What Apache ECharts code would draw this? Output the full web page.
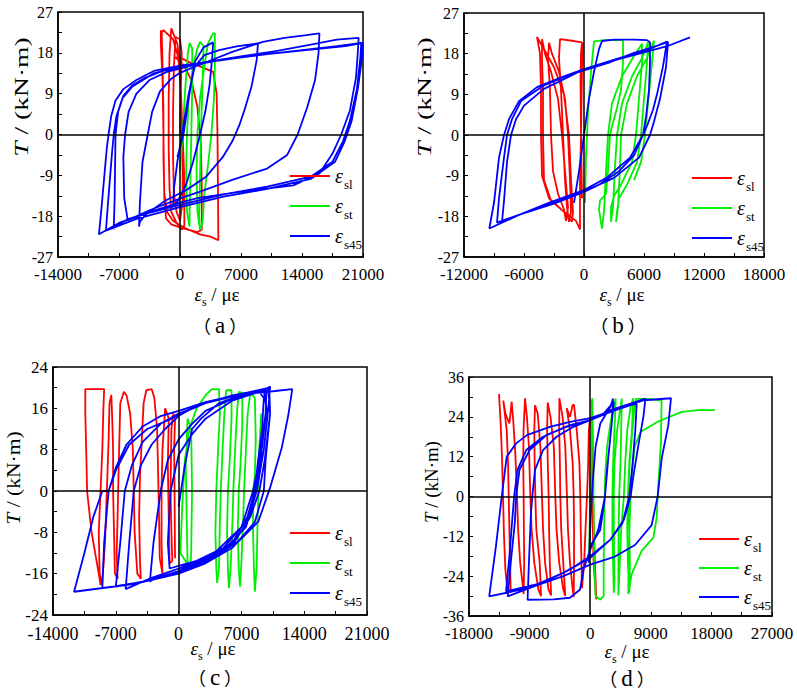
<!DOCTYPE html>
<html>
<head>
<meta charset="utf-8">
<title>扭矩-应变滞回曲线</title>
<script src="https://cdn.jsdelivr.net/npm/echarts/dist/echarts.min.js"></script>
<style>
    html, body { margin: 0; padding: 0; background: #fff; }
    #main { width: 797px; height: 692px; }
</style>
</head>
<body>
<div id="main"></div>
<script>
// 坐标轴范围 [min, max, interval]
var aX = [-14000, 21000, 7000], aY = [-27, 27, 9];
var bX = [-12000, 18000, 6000], bY = [-27, 27, 9];
var cX = [-14000, 21000, 7000], cY = [-24, 24, 8];
var dX = [-18000, 27000, 9000], dY = [-36, 36, 12];

var names = ['sl', 'st', 's45'];
var captions = ['a', 'b', 'c', 'd'];

// (a) 纵筋 / 箍筋 / 45°钢筋 应变
var a_sl = [[0,0],[100,10],[200,18],[0,21],[-500,21.5],[-700,15],[-800,5],[-800,-5],[-700,-13],[-400,-17],[0,-19],[300,-15],[300,-5],[200,5],[0,15],[-300,20],[-1000,23.4],[-1200,18],[-1300,8],[-1300,-3],[-1200,-12],[-1000,-17],[-400,-19.5],[200,-21],[500,-20],[500,-10],[300,0],[100,10],[-200,17],[-800,21],[-1900,23],[-2100,22.5],[-2000,15],[-1900,5],[-1900,-5],[-1800,-13],[-1500,-17],[-800,-19],[0,-20],[1000,-21],[2000,-21.5],[2500,-21],[2500,-12],[2400,-2],[2000,6],[1300,12],[500,15],[0,16],[-500,17],[0,17],[1000,16],[2300,15],[3800,13.8],[4200,9],[4300,0],[4350,-10],[4400,-23.3],[3500,-22.5],[2300,-22],[1000,-21],[0,-20.5],[-1000,-19.8],[-1600,-18.5],[-1800,-14],[-1900,0],[-2000,12],[-2200,20],[-2200,23]];
var a_st = [[0,-8],[300,0],[600,10],[900,18],[1100,20.2],[1400,19],[1400,10],[1300,0],[1200,-10],[1100,-17],[1100,-20.3],[800,-17],[700,-8],[800,0],[1000,8],[1500,15],[2000,19],[2300,20.4],[2700,19.5],[2600,12],[2400,0],[2300,-10],[2200,-18],[2300,-21],[2000,-17],[1900,-8],[2000,0],[2300,8],[2800,15],[3200,20],[3800,22.3],[4000,22.3],[4000,15],[3900,8],[3600,0],[3200,-7],[2800,-13],[2600,-19],[2400,-21]];
var a_s45 = [[-300,-5],[400,0],[1000,8],[1700,16],[2700,19.2],[3800,20.3],
    [3700,17],[3400,11],[2900,5],[2300,0],[1500,-6],[700,-11],[-200,-14.5],[-800,-16],
    [-700,-12],[-300,-6],[300,1],[1000,9],[1700,15],[2800,17.5],[4500,18.6],[6500,19.4],[8950,20.1],
    [8800,16.4],[8200,10.5],[7400,5.4],[6800,2],[6000,-1.5],[4900,-5],[3000,-9.3],[700,-12.3],[-1600,-14.5],[-3800,-17.4],[-4600,-19.2],[-4700,-20.3],
    [-4600,-15],[-4300,-6],[-3700,0],[-3200,5],[-2300,9.5],[-1000,12.3],[0,13.6],[2000,15.2],[4000,16.7],[6000,18.2],[8000,19.5],[9500,20.4],[12000,21.3],[14500,21.9],[16000,22.3],
    [15900,18],[15500,12],[14600,6],[13500,0],[12300,-4.5],[10000,-7.5],[6000,-10],[2300,-12.6],[0,-14.1],[-3500,-16.7],[-6000,-18.9],
    [-6400,-14],[-6500,-5],[-6300,0],[-5900,5],[-5000,9],[-3500,12],[-1500,13.8],[0,14.5],[3000,16],[7000,17.2],[11000,18.4],[15000,19.8],[18000,20.9],[20500,21.3],
    [20400,18],[20200,12.6],[19500,5.3],[18500,0],[17500,-4.2],[16000,-8.6],[13000,-11.2],[7000,-12.6],[2000,-14],[0,-15],[-3000,-16.8],[-6000,-18.7],[-7500,-20.2],[-7600,-20.9],
    [-7500,-14],[-7400,0],[-7100,5],[-6500,8.5],[-5500,10.8],[-4000,12.5],[-2000,14],[0,14.8],[4000,16.2],[9000,17.5],[14000,18.6],[18000,19.5],[20800,20.2],
    [20700,17],[20300,10],[19500,3],[18700,-1.5],[17500,-6],[15000,-9.3],[10000,-11.5],[5000,-13.2],[0,-15.5],[-4000,-17.5],[-7000,-19.5],[-9300,-22],
    [-9000,-16],[-8400,-3],[-8200,0],[-7900,4],[-7400,7.5],[-6500,10],[-5000,12],[-3000,14],[0,15.2],[5000,16.5],[10000,17.7],[15000,18.7],[19000,19.5],[21000,20.2],
    [20900,17],[20400,10],[19700,3],[18900,-1.5],[17800,-6],[15000,-9.8],[10000,-12],[5000,-13.7],[0,-16],[-5000,-18.6],[-8500,-21.2],
    [-8300,-16],[-7800,-4],[-7600,0],[-7300,4],[-6600,8],[-5500,10.5],[-3000,13.5],[0,15]];

// (b)
var b_sl = [[-200,-14],[-300,0],[-350,12],[-300,18],[-200,20.5],[-1000,20.8],[-2400,21.2],[-2500,17],[-2300,10],[-2100,0],[-1900,-10],[-1700,-16],[-1500,-19.2],[-1300,-17],[-1400,-10],[-1600,0],[-1900,8],[-2500,14],[-3200,18],[-3500,20.4],[-3600,17],[-3400,10],[-3300,0],[-3100,-8],[-2600,-13],[-2000,-16.5],[-1800,-19],[-1600,-16],[-1900,-8],[-2200,0],[-2600,8],[-3300,14],[-3900,18],[-4200,21.2],[-4200,17],[-4100,10],[-4100,0],[-4000,-10],[-3300,-14.5],[-2000,-17],[-1200,-19.2],[-1100,-17],[-1300,-10],[-1500,0],[-2000,9],[-3000,15],[-4000,19],[-4700,21.7],[-4400,18],[-4300,10],[-4300,0],[-4200,-9],[-3500,-14],[-2000,-17],[-800,-19],[-400,-20.9],[-400,-10],[-300,0],[-200,15],[-100,20.3]];
var b_st = [[100,-15],[200,-5],[400,5],[700,14],[1000,20.7],[2000,21],[3900,21],[3900,16],[3700,10],[3300,6],[2800,2],[2600,0],[2400,-8],[2200,-13],[1600,-14.5],[1500,-16.5],[1800,-20.7],[2000,-17],[2200,-8],[2400,0],[2800,7],[3800,13],[5000,17.5],[5800,20.2],[5800,16],[5500,8],[5200,0],[4800,-6],[3700,-11],[3000,-13.5],[2700,-16],[2700,-19.2],[2900,-16],[3100,-7],[3300,0],[3800,7],[4800,13],[5800,17],[6400,20.5],[6300,16],[6000,8],[5700,0],[5300,-6],[4300,-11],[3500,-14],[3300,-17],[3200,-19.2],[3400,-16],[3600,-7],[3700,0],[4300,7],[5300,13],[6300,17],[7000,20.9],[6800,16],[6400,7],[6100,0],[5700,-6],[5000,-10]];
var b_s45 = [[-1000,-15],[-500,-8],[0,0],[500,8],[1000,14],[1500,19],[1800,20.8],[3000,21.1],[5000,21.1],[6300,21],[6600,20.5],
    [6600,16],[6500,10],[6200,4],[5900,0],[5000,-4.5],[3500,-8],[1500,-11],[0,-12.6],[-3000,-15.2],[-6300,-17.5],[-8200,-19.2],
    [-8000,-14.6],[-7700,-6],[-7300,0],[-6800,3.5],[-6000,6.5],[-4000,10.2],[-1300,13.1],[0,14.6],[3200,16.8],[6500,19],[8300,20.7],
    [7900,15.2],[7300,9],[6900,5.6],[6300,2],[5900,0],[4600,-5],[2300,-9.4],[0,-12.2],[-3400,-14.9],[-6300,-17.5],[-8700,-19.4],
    [-8500,-14],[-8000,-5],[-7700,0],[-7200,3.5],[-6300,7.5],[-4000,11],[-1500,13.3],[0,14.3],[2500,16],[5000,18.2],[7000,19.5],[8400,20.6],
    [8200,15],[7600,8],[7000,3],[6600,0],[5500,-5],[3000,-9.5],[0,-12.5],[-3500,-15.2],[-6500,-17.7],[-9470,-20.7],
    [-9000,-15],[-8500,-5],[-8000,0],[-7500,3.5],[-6500,7.5],[-4700,10.6],[-2000,13],[0,14.6],[3000,16.5],[6000,18.3],[8500,19.8],[10600,21.6]];

// (c)
var c_sl = [[-400,-13],[-450,0],[-500,8],[-400,14],[-600,15],[-800,12],[-900,0],[-800,-8],[-700,-13.5],[-1000,-14],[-1100,-5],[-1200,5],[-1100,14],[-1500,16],[-1800,8],[-1900,0],[-1900,-10],[-1800,-16],
    [-2100,-13],[-2200,-3],[-2300,5],[-2400,12],[-2700,18],[-3000,19.7],[-3600,19.5],[-3900,17],[-4100,10],[-4300,3],[-4400,-5],[-4300,-14],[-4200,-17],
    [-4600,-16],[-4900,-8],[-5000,0],[-5100,8],[-5400,15],[-5800,18.5],[-6100,19.2],[-6500,17],[-6600,10],[-6700,3],[-6800,-5],[-6900,-12],[-6800,-17],
    [-7100,-16],[-7200,-8],[-7300,0],[-7300,8],[-7400,14],[-7500,18.6],[-7700,17],[-7800,10],[-8000,0],[-8200,-10],[-8400,-15],[-8600,-18.2],
    [-8800,-16],[-8900,-8],[-8700,0],[-8500,8],[-8400,15],[-8300,19.7],[-9500,19.7],[-10400,19.7],[-10400,15],[-10300,8],[-10200,0],[-9700,-8],[-9200,-13],[-8900,-16],[-8700,-18.2]];
var c_st = [[1000,-14],[900,-5],[800,5],[1000,14],[1400,12],[1500,0],[1400,-12],[1300,-15],
    [200,-12],[400,-3],[700,6],[1200,12],[2000,16],[3000,18.5],[3700,19.7],[4500,19.7],[4600,15],[4400,8],[4200,0],[4100,-8],[4200,-15],[4300,-17.8],
    [4500,-15],[4600,-6],[4700,0],[4900,8],[5100,15],[5300,19.5],[5900,19.5],[5900,14],[5700,6],[5500,0],[5400,-8],[5500,-15],[5600,-18.8],
    [5800,-15],[6000,-6],[6100,0],[6300,8],[6500,15],[6700,19.2],[7100,19],[7100,13],[6900,5],[6700,0],[6600,-8],[6700,-15],[6850,-18.5],
    [7000,-14],[7200,-5],[7300,0],[7500,8],[7700,15],[8000,19],[8500,18],[8600,10],[8500,3],[8300,0],[8300,-8],[8400,-15],[8500,-19.5],
    [8700,-15],[8800,-6],[8900,0],[9000,8],[9200,15]];
var c_s45 = [[0,-3],[700,5],[1500,12],[2500,14],[4500,17],[7000,18.5],[9000,19.2],[9500,18],[9300,12],[8800,5],[8500,0],[7500,-6],[5000,-11],[2000,-13.5],[0,-14.5],[-1000,-15],
    [-1200,-10],[-900,0],[0,7],[1500,11],[3000,14],[6000,17.5],[9500,19.5],[10200,20.2],[10000,16],[9500,8],[8900,2],[8700,0],[7500,-7],[5000,-11.5],[2000,-14],[0,-15],[-2000,-16.3],[-3200,-17.5],
    [-2800,-10],[-2000,0],[-1200,6],[0,10],[1500,13],[3000,15.5],[6000,17.8],[9800,19.5],[9700,15],[9000,6],[8300,0],[7000,-7],[4000,-12],[0,-15],[-3000,-16.8],[-5900,-19],
    [-5500,-10],[-5000,0],[-4200,5],[-3000,9],[-1500,12],[0,14.5],[2000,16.5],[5000,18],[9500,19.5],[9800,16],[9200,7],[8700,1],[8000,-4],[6000,-10],[3000,-13.5],[0,-15.5],[-3000,-17.2],[-7000,-18.5],
    [-6500,-10],[-6000,0],[-5200,5],[-4000,9.5],[-2000,13],[0,15],[3000,17],[6000,18.5],[10000,19.8],[10200,15],[9600,6],[9000,0],[8000,-5],[6000,-10.5],[3000,-13.8],[0,-15.8],[-4000,-17.6],[-8500,-18.8],
    [-8300,-10],[-7800,0],[-7000,4.5],[-5800,9],[-4000,12.5],[-2000,14.5],[0,15.5],[3000,17.2],[7000,18.8],[10100,20],[10200,15],[9700,6],[9500,0],[8500,-6],[6000,-11],[3000,-14],[0,-16],[-5000,-18],[-11650,-19.5],
    [-10500,-12],[-9500,-5],[-8500,0],[-7800,0],[-7000,4],[-5500,9],[-3500,12],[-1000,13.8],[0,14.8],[3000,17],[7000,18.7],[10000,19.2],[11000,19.4],[12670,19.7],[12230,14.7],[11490,8.3],[10190,0.6],[8890,-5.9],[6660,-9.8],[2940,-13],[0,-15.5]];

// (d)
var d_sl = [[-13540,30.9],[-13300,22],[-13100,12],[-12950,0],[-12800,-12],[-12600,-22],[-12300,-28],[-11800,-29],[-11900,-20],[-12000,-10],[-12100,0],[-12200,10],[-12400,20],[-12900,28.9],
    [-12600,25],[-12000,22],[-11660,28.6],[-11400,22],[-11100,12],[-10870,0],[-10700,-10],[-10400,-20],[-10000,-27],[-9900,-29.4],[-9800,-20],[-9850,-10],[-9880,0],[-9950,10],[-9900,20],[-9680,29.6],
    [-9400,24],[-9100,15],[-8890,0],[-8700,-10],[-8300,-20],[-7700,-28],[-7300,-30],[-7500,-20],[-8000,-10],[-8150,0],[-8250,10],[-8300,20],[-8200,27.5],
    [-7800,25],[-7400,15],[-7160,0],[-7000,-10],[-6700,-20],[-6200,-28],[-5800,-29.8],[-6000,-20],[-6100,-10],[-6170,0],[-6300,10],[-6400,20],[-6310,28.3],
    [-5900,24],[-5400,15],[-5180,0],[-5000,-10],[-4600,-20],[-4000,-28],[-3700,-30],[-4000,-20],[-4300,-10],[-4440,0],[-4500,10],[-4600,20],[-4580,29.6],
    [-4100,24],[-3700,15],[-3450,0],[-3300,-10],[-3000,-20],[-2600,-28],[-2450,-30.3],[-2400,-20],[-2400,-10],[-2450,0],[-2600,10],[-3000,20],[-3490,26.6],
    [-3000,24],[-2600,27.6],[-2400,27.6],[-2000,20],[-1600,10],[-1470,0],[-1400,-10],[-1300,-20],[-1220,-27.6],[-900,-20],[-700,-10],[-480,0],[-300,10],[-200,20],[0,24],
    [300,20],[300,0],[500,-20],[900,-31],[700,-20],[400,0],[300,20],[200,29]];
var d_st = [[-200,-20],[0,0],[200,20],[300,29.6],[400,20],[500,0],[600,-20],[800,-30],[1500,-31.1],[2000,-30],[2000,-20],[2100,-5],[2200,5],[2500,15],[3000,22],[3500,27],[3800,29.5],[3600,20],[3400,10],[3300,0],[3300,-10],[3400,-20],[3500,-29],[3600,-25],[3500,-10],[3500,0],[3600,10],[4000,20],[4500,27],[4700,29.5],[4600,20],[4500,10],[4300,0],[4200,-15],[4180,-29.8],[4400,-20],[4600,-10],[5000,0],[5200,10],[5500,20],[6000,27],[6400,29.6],[6200,20],[5800,10],[5600,0],[5500,-10],[5600,-20],[5800,-28.9],[5900,-20],[5800,-10],[5700,0],[5800,8],[6100,16],[6500,25],[6800,29.4],[8500,29.4],[10360,29],[10600,28.8],[10510,16.5],[10120,3.5],[9870,-6.4],[9375,-12.4],[7640,-16.4],[6160,-23.4],[5760,-28.4],[5660,-29.4],[5700,-20],[5900,-5],[6100,5],[6600,15],[7500,19.5],[10100,22.6],[13600,25.5],[16000,26],[18530,26]];
var d_s45 = [[-200,-20],[100,-5],[400,5],[800,15],[1500,22],[3000,27],[3400,29.5],[3200,22],[2700,12],[2200,0],[1200,-10],[0,-16],[-1000,-22],[-1500,-28],[-3000,-30.5],[-5400,-31],[-9300,-31.1],
    [-9100,-20],[-8800,-5],[-8600,0],[-8200,8],[-7000,14],[-5000,18],[-2500,21],[0,23],[3000,26],[6000,28],[8200,29.5],[7900,24],[7200,16],[6400,6],[6000,0],[5000,-7],[3000,-13],[0,-18],[-3000,-22],[-7000,-26],[-12250,-30.1],
    [-11800,-20],[-11200,-8],[-11000,0],[-10500,8],[-9000,14],[-6500,18.5],[-3000,21.5],[0,23],[3000,25.5],[6000,27.5],[6900,27.9],[6700,20],[6300,10],[5800,0],[4800,-8],[3000,-13],[0,-18.5],[-4000,-23],[-8000,-26.5],[-12500,-28.6],
    [-12000,-18],[-11500,-5],[-11300,0],[-10800,8],[-9500,14],[-7000,18],[-3500,21],[0,23],[4000,26.5],[8000,29],[12000,29.6],[11600,21.5],[10620,11.5],[10020,0],[9130,-8.6],[6650,-14.6],[3680,-18.1],[0,-20.5],[-4000,-24],[-9000,-27.5],[-15000,-30.1],
    [-14000,-15],[-13140,0],[-12400,12],[-11000,16],[-9400,18.5],[-6000,21],[-3000,22.5],[0,23.6],[2000,25],[3500,28.5],[3000,18],[2500,8],[2200,0],[1500,-10],[0,-15]];

var chart = echarts.init(document.getElementById('main'), null, {renderer: 'svg'});

var serif = '"Liberation Serif", "Times New Roman", serif';
var colors = ['#ff0000', '#00ee00', '#0000ff'];

function xAx(gi, r, fs, mg) {
    return {
        type: 'value', gridIndex: gi, min: r[0], max: r[1], interval: r[2],
        axisLine: {show: true, onZero: false, lineStyle: {color: '#000', width: 1.5}},
        axisTick: {show: true, inside: true, length: 4, lineStyle: {color: '#000'}},
        minorTick: {show: true, splitNumber: 2, length: 4, lineStyle: {color: '#000'}},
        splitLine: {show: false},
        axisLabel: {color: '#000', fontFamily: serif, fontSize: fs, lineHeight: 13, margin: mg,
            showMinLabel: true, showMaxLabel: true,
            formatter: function (v) { return String(v); }}
    };
}
function ser(name, data, gi, zero) {
    var c = colors[names.indexOf(name)];
    var s = {
        name: name, type: 'line', xAxisIndex: gi, yAxisIndex: gi, data: data,
        symbol: 'none', showSymbol: false, silent: true, clip: true,
        lineStyle: {color: c, width: 1.8}, itemStyle: {color: c}
    };
    if (zero) {
        s.markLine = {silent: true, symbol: 'none', label: {show: false}, animation: false,
            lineStyle: {color: '#000', width: 1.5, type: 'solid'},
            data: [{xAxis: 0}, {yAxis: 0}]};
    }
    return s;
}
var legRich = {
    e: {fontFamily: serif, fontStyle: 'italic', fontSize: 20, lineHeight: 20, verticalAlign: 'top', color: '#000'},
    s: {fontFamily: serif, fontSize: 13, lineHeight: 14, verticalAlign: 'top', padding: [12, 0, 0, 1], color: '#000'}
};
function leg(left, top, gap) {
    return {
        left: left, top: top, orient: 'vertical', itemWidth: 40, itemHeight: 2, itemGap: gap,
        icon: 'rect', selectedMode: false, data: names,
        formatter: function (n) { return '{e|ε}{s|' + n + '}'; },
        textStyle: {rich: legRich}
    };
}
function yTitle(x, y, fs, sc) {
    return {type: 'text', x: x, y: y, rotation: Math.PI / 2, scaleX: sc, style: {
        text: '{i|T}{n| / (kN·m)}', align: 'center', verticalAlign: 'middle',
        rich: {i: {fontFamily: serif, fontStyle: 'italic', fontSize: fs, fill: '#000'},
               n: {fontFamily: serif, fontSize: fs, fill: '#000'}}}};
}
function xTitle(x, y) {
    return {type: 'text', x: x, y: y, style: {
        text: '{i|ε}{s|s}{n| / με}', align: 'center', verticalAlign: 'middle',
        rich: {i: {fontFamily: serif, fontStyle: 'italic', fontSize: 19, lineHeight: 20, verticalAlign: 'top', fill: '#000'},
               s: {fontFamily: serif, fontSize: 12, lineHeight: 13, verticalAlign: 'top', padding: [11, 0, 0, 0], fill: '#000'},
               n: {fontFamily: serif, fontSize: 19, lineHeight: 20, verticalAlign: 'top', fill: '#000'}}}};
}
function caption(x, y, t) {
    return {type: 'text', x: x, y: y, style: {
        text: '{p|（}{l|' + t + '}{p|）}', align: 'center', verticalAlign: 'middle',
        rich: {p: {fontFamily: '"Noto Sans CJK SC"', fontSize: 18, fill: '#000'},
               l: {fontFamily: serif, fontSize: 23, padding: [0, 4, 0, 4], fill: '#000'}}}};
}

var option = {
    animation: false,
    backgroundColor: '#fff',
    grid: [
        {left: 58, top: 12, width: 305, height: 245},
        {left: 464, top: 13, width: 300, height: 244},
        {left: 53, top: 367, width: 314, height: 248},
        {left: 469, top: 377, width: 303, height: 239}
    ].map(function (g) {
        g.show = true; g.borderColor = '#000'; g.borderWidth = 1.5; g.containLabel = false;
        return g;
    }),
    xAxis: [xAx(0, aX, 17, 11), xAx(1, bX, 17, 11), xAx(2, cX, 18, 12), xAx(3, dX, 17, 11)],
    yAxis: [xAx(0, aY, 16, 5), xAx(1, bY, 16, 5), xAx(2, cY, 17, 5), xAx(3, dY, 16, 5)],
    legend: [leg(285, 161, 5), leg(687, 163, 5), leg(285, 518, 5), leg(694, 524, 4)],
    series: [
        ser('sl', a_sl, 0, true), ser('st', a_st, 0), ser('s45', a_s45, 0),
        ser('sl', b_sl, 1, true), ser('st', b_st, 1), ser('s45', b_s45, 1),
        ser('sl', c_sl, 2, true), ser('st', c_st, 2), ser('s45', c_s45, 2),
        ser('sl', d_sl, 3, true), ser('st', d_st, 3), ser('s45', d_s45, 3)
    ],
    graphic: [
        yTitle(22, 97, 19, 1.45), yTitle(425, 97, 19, 1.45), yTitle(14, 478, 18, 1.2), yTitle(432, 482, 18, 1.05),
        xTitle(217, 295), xTitle(622, 295), xTitle(213, 649), xTitle(627, 652),
        caption(220, 325, captions[0]), caption(618, 325, captions[1]),
        caption(215, 677, captions[2]), caption(627, 678, captions[3])
    ]
};
chart.setOption(option);
</script>
</body>
</html>
